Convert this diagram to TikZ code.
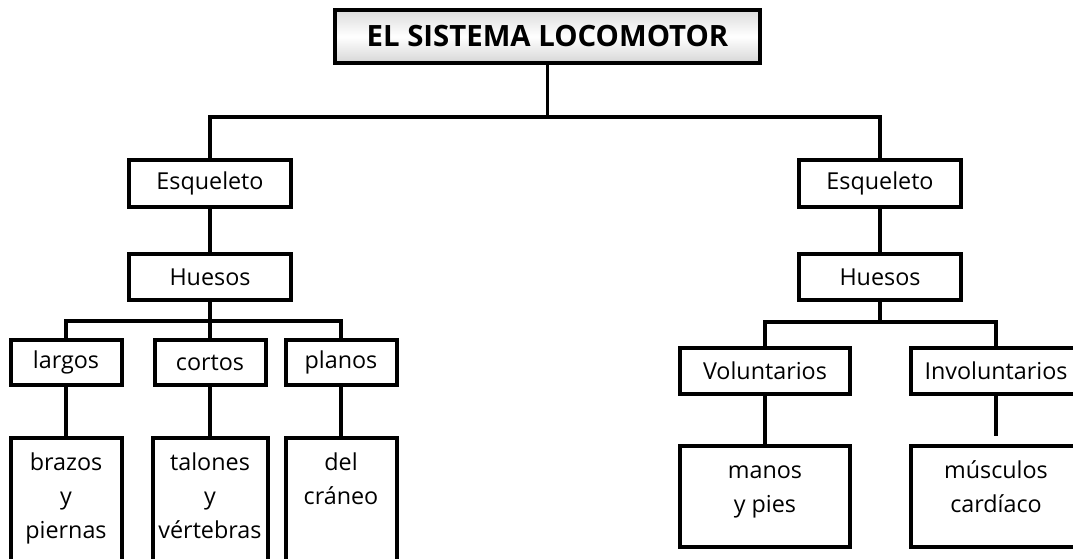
\documentclass[tikz,border=0pt]{standalone}
\usepackage{fontspec}
\setmainfont{Open Sans}
\newcommand{\rows}[1]{\begin{tabular}[t]{@{}c@{}}#1\end{tabular}}
\begin{document}
\begin{tikzpicture}[x=0.75pt,y=-0.75pt,
        box/.style={draw, line width=3pt, fill=white, inner sep=0pt, font=\fontsize{17.5pt}{25.5pt}\selectfont},
        head/.style={box, minimum width=121.5pt, minimum height=35pt},
        kind/.style={box, minimum height=34pt},
        leaf/.style={box, anchor=north, text height=24pt},
        link/.style={line width=2.5pt}]
        \useasboundingbox (0,0) rectangle (1073,559);
        \clip (0,0) rectangle (1073,559);

        % Title
        \node[box, top color=gray!28, bottom color=gray!32, middle color=white,
              minimum width=318.75pt, minimum height=39.75pt,
              font=\fontsize{22pt}{26pt}\selectfont\bfseries] (title) at (547.5,36.5) {EL SISTEMA LOCOMOTOR};
        \coordinate (hub) at (547.5,117);

        % Two main branches
        \node[head] (esqL) at (210,183.5) {Esqueleto};
        \node[head] (huesL) at (210,277) {Huesos};
        \node[head] (esqR) at (880,183.5) {Esqueleto};
        \node[head] (huesR) at (880,277) {Huesos};

        % Kinds of bones
        \node[kind, minimum width=83.25pt] (largos) at (66,362.5) {largos};
        \node[kind, minimum width=83.25pt] (cortos) at (210,362.5) {cortos};
        \node[kind, minimum width=83.25pt] (planos) at (341,362.5) {planos};
        \coordinate (brL) at (210,321);

        % Right side kinds
        \node[kind, minimum width=127.5pt] (volun) at (765,371) {Voluntarios};
        \node[kind, minimum width=127.5pt] (invol) at (996,371) {Involuntarios};
        \coordinate (brR) at (880,322);

        % Examples (left ones run off the page)
        \node[leaf, minimum width=83.25pt, text depth=81pt] (brazos) at (66,436) {\rows{brazos\\y\\piernas}};
        \node[leaf, minimum width=86.25pt, text depth=81pt] (talones) at (210,436) {\rows{talones\\y\\vértebras}};
        \node[leaf, minimum width=83.25pt, text depth=81pt] (craneo) at (341,436) {\rows{del\\cráneo}};
        \node[leaf, minimum width=127.5pt, text depth=51.75pt] (manos) at (765,444) {\rows{manos\\y pies}};
        \node[leaf, minimum width=127.5pt, text depth=51.75pt] (musculos) at (996,444) {\rows{músculos\\cardíaco}};

        % Connectors
        \draw[link] (title) -- (hub);
        \draw[link] (esqL) |- (hub) -| (esqR);
        \draw[link] (esqL) -- (huesL);
        \draw[link] (esqR) -- (huesR);
        \draw[link] (huesL) -- (brL);
        \draw[link] (largos) |- (brL) -| (planos);
        \draw[link] (brL) -- (cortos);
        \draw[link] (huesR) -- (brR);
        \draw[link] (volun) |- (brR) -| (invol);
        \draw[link] (largos) -- (brazos);
        \draw[link] (cortos) -- (talones);
        \draw[link] (planos) -- (craneo);
        \draw[link] (volun) -- (manos);
        \draw[link, shorten >=6pt] (invol) -- (musculos);
\end{tikzpicture}
\end{document}
